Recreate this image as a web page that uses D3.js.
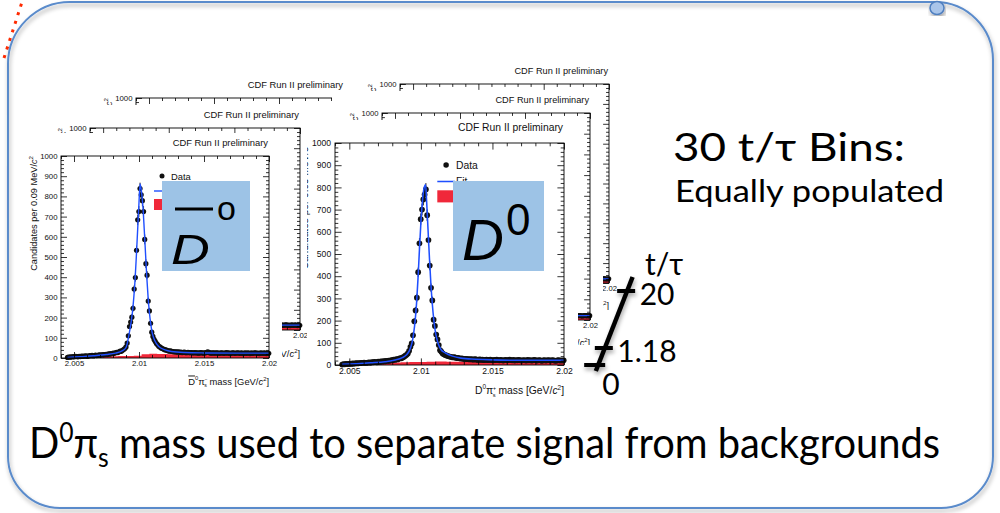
<!DOCTYPE html>
<html>
<head>
<meta charset="utf-8">
<script src="https://cdn.jsdelivr.net/npm/d3@7"></script>
<style>
  html, body { margin: 0; padding: 0; background: #fff; }
  svg { display: block; }
</style>
</head>
<body>
<svg id="slide" width="1000" height="513"></svg>
<script>
// ---------- data ----------
const binStart = 2.0045;      // centre of the first mass bin (GeV/c^2)
const binWidth = 0.00009;     // 0.09 MeV/c^2 per bin
const massDomain = [2.004, 2.02];
const countDomain = [0, 1000];
const xTickValues = [2.005, 2.01, 2.015, 2.02];
const xTickLabels = ["2.005", "2.01", "2.015", "2.02"];
const yTickValues = [0, 100, 200, 300, 400, 500, 600, 700, 800, 900, 1000];
const yTickLabels = ["0", "100", "200", "300", "400", "500", "600", "700", "800", "900", "1000"];

// anti-D0 pi_s candidates per bin
const dbarCounts = [
  3, 5, 4, 6, 5, 7, 6, 8, 7, 6,
  8, 7, 9, 8, 10, 9, 11, 8, 10, 12,
  11, 13, 10, 12, 14, 12, 13, 15, 14, 16,
  15, 17, 16, 18, 17, 20, 19, 22, 21, 24,
  23, 26, 28, 27, 31, 34, 33, 38, 42, 47,
  55, 74, 110, 156, 178, 202, 246, 341, 398, 533, 684, 725, 839,
  808, 779, 725, 587, 467, 410, 282, 233, 172, 128, 107, 92, 82, 72, 66,
  58, 55, 50, 47, 44, 41, 40, 38, 36, 34, 35, 33, 32,
  31, 30, 31, 29, 30, 28, 29, 27, 28, 29, 27, 26, 28, 27, 26, 27, 25, 26, 27, 25,
  26, 24, 25, 27, 26, 24, 25, 26, 28, 30, 27, 25, 24, 26, 25, 24, 26, 25, 24, 23,
  25, 26, 24, 23, 25, 27, 24, 25, 22, 24, 26, 25, 23, 24, 26, 25, 23, 24, 25, 22,
  24, 25, 23, 26, 24, 22, 25, 23, 24, 26, 25, 23, 24, 22, 25, 24, 23, 25, 24, 22, 24, 23
];
const dbarFitMass = [2.0045, 2.0055, 2.0065, 2.0075, 2.0082, 2.0087, 2.0090, 2.0091, 2.0092, 2.0093,
  2.0094, 2.0095, 2.0096, 2.0097, 2.0098, 2.0099, 2.0100, 2.01008, 2.0102, 2.0103,
  2.0104, 2.0105, 2.0106, 2.0107, 2.0108, 2.0109, 2.0110, 2.0111, 2.0112, 2.0115,
  2.0120, 2.0125, 2.0135, 2.015, 2.0175, 2.02];
const dbarFitCounts = [3, 7, 11, 17, 24, 35, 52, 72, 105, 140,
  180, 230, 300, 390, 510, 640, 770, 862, 820, 750,
  640, 520, 400, 300, 225, 170, 130, 105, 88, 58,
  40, 32, 27, 25, 24, 24];
const dbarBkgEdges = [2.0045, 2.0066, 2.0072, 2.0078, 2.0084, 2.0090, 2.0096, 2.0102, 2.0108,
  2.0114, 2.0122, 2.0132, 2.0145, 2.0160, 2.0175, 2.0190, 2.0200];
const dbarBkgCounts = [0, 4, 8, 9, 10, 10, 11, 18, 21, 20, 19, 18, 17, 18, 17, 18];

// D0 pi_s candidates per bin
const d0Counts = [
  2, 4, 3, 5, 4, 5, 6, 5, 7, 6,
  7, 8, 7, 9, 8, 10, 9, 11, 10, 9,
  11, 12, 10, 13, 12, 14, 13, 12, 15, 14,
  16, 15, 17, 16, 19, 18, 20, 19, 22, 21,
  24, 23, 26, 25, 28, 31, 30, 34, 37, 42,
  46, 52, 64, 82, 97, 134, 197, 246, 303, 418, 548, 657, 700, 746, 768,
  791, 675, 563, 448, 348, 291, 204, 176, 137, 115, 90, 67, 60, 52, 48, 45,
  43, 40, 39, 37, 36, 34, 35, 33, 31, 32, 30, 29, 30, 28, 27, 28, 26, 27, 25, 26,
  25, 24, 26, 25, 23, 24, 25, 23, 24, 22, 23, 24, 22, 23, 24, 22, 21, 23, 22, 24,
  22, 21, 23, 22, 20, 22, 23, 21, 22, 24, 22, 21, 23, 20, 22, 21, 23, 22, 20, 21,
  22, 21, 20, 23, 21, 22, 20, 21, 23, 22, 20, 21, 22, 21, 19, 21, 22, 20, 21, 22,
  21, 20, 22, 21, 20, 19, 21, 22, 20, 21, 20, 21
];
const d0FitMass = [2.0045, 2.0055, 2.0065, 2.0075, 2.0082, 2.0087, 2.0090, 2.0092, 2.0093, 2.0094,
  2.0095, 2.0096, 2.0097, 2.0098, 2.0099, 2.0100, 2.0101, 2.0102, 2.01033, 2.0104,
  2.0105, 2.0106, 2.0107, 2.0108, 2.0109, 2.0110, 2.0111, 2.0112, 2.0114, 2.0117,
  2.0122, 2.0128, 2.0138, 2.015, 2.0175, 2.02];
const d0FitCounts = [3, 6, 10, 15, 22, 33, 46, 65, 82, 105,
  145, 200, 280, 390, 520, 640, 730, 790, 812, 740,
  610, 480, 365, 275, 205, 155, 122, 98, 70, 55,
  40, 31, 26, 23, 21, 21];
const d0BkgEdges = [2.0045, 2.0068, 2.0074, 2.0080, 2.0086, 2.0092, 2.0098, 2.0104, 2.0110,
  2.0118, 2.0128, 2.0140, 2.0155, 2.0170, 2.0185, 2.0200];
const d0BkgCounts = [0, 5, 9, 11, 12, 13, 14, 15, 16, 15, 16, 15, 16, 15];

// decay-time bin boundaries shown on the t/tau scale
const tauTickValues = [0, 1.18, 20];
const tauTickLabels = ["0", "1.18", "20"];

// ---------- drawing ----------
const svg = d3.select("#slide");
const defs = svg.append("defs");

const shadow = defs.append("filter").attr("id", "softShadow")
  .attr("x", "-10%").attr("y", "-10%").attr("width", "120%").attr("height", "120%");
shadow.append("feDropShadow").attr("dx", 1).attr("dy", 3).attr("stdDeviation", 2.2)
  .attr("flood-color", "#000").attr("flood-opacity", 0.35);

const sets = {
  dbar: { counts: dbarCounts, fitM: dbarFitMass, fitC: dbarFitCounts, bkgE: dbarBkgEdges, bkgC: dbarBkgCounts, charge: "\u2212", bar: true },
  d0:   { counts: d0Counts,   fitM: d0FitMass,   fitC: d0FitCounts,   bkgE: d0BkgEdges,   bkgC: d0BkgCounts,   charge: "+",      bar: false }
};

// stacked histogram panels, back to front: [x0, y0, x1, y1] of the frame and of the visible cut-out
const panels = [
  { frame: [136, 98, 344, 300], cut: [88, 74, 360, 335],  k: 1.0,  set: "dbar" },
  { frame: [90, 128, 300, 330], cut: [40, 105, 313, 362], k: 1.0,  set: "dbar" },
  { frame: [61, 156, 269, 358], cut: [13, 133, 282, 395], k: 1.0,  set: "dbar" },
  { frame: [400, 84, 609, 283], cut: [352, 62, 625, 310], k: 0.98, set: "d0" },
  { frame: [382, 113, 590, 320], cut: [332, 91, 603, 345], k: 0.98, set: "d0" },
  { frame: [335, 143, 564, 365], cut: [307, 120, 578, 398], k: 1.1,  set: "d0" }
];
// flavour label boxes laid over the front panels
const labelBoxes = [[162, 181, 250, 271], [453, 181, 544, 271]];

const plotFont = "'Liberation Sans', Arial, sans-serif";
const slideFont = "Lato, 'Open Sans', sans-serif";
const xMinor = d3.range(4, 21).filter(v => v % 5 !== 0).map(v => 2 + v / 1000);
const yMinor = d3.range(0, 1001, 20).filter(v => v % 100 !== 0);

function drawPanel(cfg, idx) {
  const [fx0, fy0, fx1, fy1] = cfg.frame;
  const [cx0, cy0, cx1, cy1] = cfg.cut;
  const k = cfg.k;
  const s = sets[cfg.set];

  defs.append("clipPath").attr("id", "cut" + idx)
    .append("rect").attr("x", cx0).attr("y", cy0).attr("width", cx1 - cx0).attr("height", cy1 - cy0);

  const g = svg.append("g").attr("class", "panel").attr("id", "panel" + idx).attr("clip-path", `url(#cut${idx})`);
  g.append("rect").attr("x", cx0).attr("y", cy0).attr("width", cx1 - cx0).attr("height", cy1 - cy0).attr("fill", "#fff");

  const x = d3.scaleLinear().domain(massDomain).range([fx0, fx1]);
  const y = d3.scaleLinear().domain(countDomain).range([fy1, fy0]);

  // wrong-sign background histogram
  const bkgPts = s.bkgE.map((m, j) => ({ m, c: j < s.bkgC.length ? s.bkgC[j] : s.bkgC[s.bkgC.length - 1] }));
  g.append("path").datum(bkgPts)
    .attr("d", d3.area().curve(d3.curveStepAfter).x(d => x(d.m)).y0(y(0)).y1(d => y(d.c)))
    .attr("fill", "#f0283a");

  // data points with statistical error bars
  const pts = s.counts.map((c, i) => ({ m: binStart + i * binWidth, c }));
  g.append("g").selectAll("line").data(pts).join("line")
    .attr("x1", d => x(d.m)).attr("x2", d => x(d.m))
    .attr("y1", d => y(d.c - Math.sqrt(d.c))).attr("y2", d => y(d.c + Math.sqrt(d.c)))
    .attr("stroke", "#111").attr("stroke-width", 0.9 * k);
  g.append("g").selectAll("circle").data(pts).join("circle")
    .attr("cx", d => x(d.m)).attr("cy", d => y(d.c)).attr("r", 2.6 * k).attr("fill", "#111");

  // fit curve
  const fit = s.fitM.map((m, j) => ({ m, c: s.fitC[j] }));
  g.append("path").datum(fit)
    .attr("d", d3.line().curve(d3.curveMonotoneX).x(d => x(d.m)).y(d => y(d.c)))
    .attr("fill", "none").attr("stroke", "#1f4fff").attr("stroke-width", 1.4 * k);

  // frame
  g.append("rect").attr("x", fx0).attr("y", fy0).attr("width", fx1 - fx0).attr("height", fy1 - fy0)
    .attr("fill", "none").attr("stroke", "#000").attr("stroke-width", 0.9);

  const major = 6 * k, minor = 3 * k;
  function styleAxis(a) {
    a.select(".domain").remove();
    a.attr("font-family", plotFont).attr("font-size", 7.8 * k);
    a.selectAll("line").attr("stroke-width", 0.8);
    a.selectAll("text").attr("fill", "#111");
  }
  // labelled axes
  g.append("g").attr("transform", `translate(0,${fy1})`)
    .call(d3.axisBottom(x).tickValues(xTickValues).tickFormat((d, i) => xTickLabels[i]).tickSize(-major).tickPadding(2.5 * k))
    .call(styleAxis);
  g.append("g").attr("transform", `translate(${fx0},0)`)
    .call(d3.axisLeft(y).tickValues(yTickValues).tickFormat((d, i) => yTickLabels[i]).tickSize(-major).tickPadding(3.5 * k))
    .call(styleAxis);
  // mirrored ticks and minor ticks
  g.append("g").attr("transform", `translate(0,${fy0})`)
    .call(d3.axisTop(x).tickValues(xTickValues).tickFormat("").tickSize(-major)).call(styleAxis);
  g.append("g").attr("transform", `translate(${fx1},0)`)
    .call(d3.axisRight(y).tickValues(yTickValues).tickFormat("").tickSize(-major)).call(styleAxis);
  g.append("g").attr("transform", `translate(0,${fy1})`)
    .call(d3.axisBottom(x).tickValues(xMinor).tickFormat("").tickSize(-minor)).call(styleAxis);
  g.append("g").attr("transform", `translate(0,${fy0})`)
    .call(d3.axisTop(x).tickValues(xMinor).tickFormat("").tickSize(-minor)).call(styleAxis);
  g.append("g").attr("transform", `translate(${fx0},0)`)
    .call(d3.axisLeft(y).tickValues(yMinor).tickFormat("").tickSize(-minor)).call(styleAxis);
  g.append("g").attr("transform", `translate(${fx1},0)`)
    .call(d3.axisRight(y).tickValues(yMinor).tickFormat("").tickSize(-minor)).call(styleAxis);
  // unlabeled axes carry empty text nodes; drop them
  g.selectAll("text").filter(function () { return !this.textContent; }).remove();

  // title
  g.append("text").attr("x", fx1 - 1).attr("y", fy0 - 10.5 * k)
    .attr("text-anchor", "end").attr("font-family", plotFont).attr("font-size", 9.4 * k)
    .attr("fill", "#111").text("CDF Run II preliminary");

  // y title
  const yt = g.append("text")
    .attr("transform", `translate(${fx0 - 24.5 * k},${fy0}) rotate(-90)`)
    .attr("text-anchor", "end").attr("font-family", plotFont).attr("font-size", 9.2 * k).attr("fill", "#111");
  yt.append("tspan").text("Candidates per 0.09 MeV/");
  yt.append("tspan").attr("font-style", "italic").text("c");
  yt.append("tspan").attr("dy", -3.6 * k).attr("font-size", 6.2 * k).text("2");

  // x title
  const fs = 9.4 * k;
  const xt = g.append("text").attr("x", fx1).attr("y", fy1 + 26.5 * k)
    .attr("text-anchor", "end").attr("font-family", plotFont).attr("font-size", fs).attr("fill", "#111");
  const dSpan = xt.append("tspan").text("D");
  if (s.bar) dSpan.style("text-decoration", "overline");
  xt.append("tspan").attr("dy", -0.45 * fs).attr("font-size", 0.62 * fs).text("0");
  xt.append("tspan").attr("dy", 0.45 * fs).text("\u03c0");
  xt.append("tspan").attr("dy", -0.42 * fs).attr("font-size", 0.5 * fs).text(s.charge);
  xt.append("tspan").attr("dx", -0.33 * fs).attr("dy", 0.72 * fs).attr("font-size", 0.55 * fs).text("s");
  xt.append("tspan").attr("dy", -0.3 * fs).text(" mass [GeV/");
  xt.append("tspan").attr("font-style", "italic").text("c");
  xt.append("tspan").attr("dy", -0.42 * fs).attr("font-size", 0.62 * fs).text("2");
  xt.append("tspan").attr("dy", 0.42 * fs).text("]");

  // legend
  const lx = fx0 + 93 * k, ly = fy0;
  g.append("circle").attr("cx", fx0 + 101 * k).attr("cy", ly + 20 * k).attr("r", 2.5 * k).attr("fill", "#111");
  g.append("text").attr("x", fx0 + 110 * k).attr("y", ly + 23.5 * k)
    .attr("font-family", plotFont).attr("font-size", 9.4 * k).attr("fill", "#111").text("Data");
  g.append("line").attr("x1", lx).attr("x2", lx + 16 * k).attr("y1", ly + 35 * k).attr("y2", ly + 35 * k)
    .attr("stroke", "#1f4fff").attr("stroke-width", 1.4 * k);
  g.append("text").attr("x", fx0 + 110 * k).attr("y", ly + 38.5 * k)
    .attr("font-family", plotFont).attr("font-size", 9.4 * k).attr("fill", "#111").text("Fit");
  g.append("rect").attr("x", lx).attr("y", ly + 43 * k).attr("width", 16 * k).attr("height", 11 * k)
    .attr("fill", "#f0283a");
}

panels.forEach(drawPanel);

// texts of the stacked panels that end up fully hidden (outside their own cut-out,
// or under the panels / label boxes stacked on top) are not kept
const hits = (px, py, r) => px >= r[0] && px <= r[2] && py >= r[1] && py <= r[3];
panels.forEach((cfg, idx) => {
  const covers = panels.slice(idx + 1).map(p => p.cut).concat(labelBoxes);
  d3.select("#panel" + idx).selectAll("text").each(function () {
    const b = this.getBoundingClientRect();
    let visible = false;
    for (let i = 0; i <= 8 && !visible; i++) {
      for (let j = 0; j <= 4 && !visible; j++) {
        const px = b.left + 1 + (b.width - 2) * i / 8;
        const py = b.top + 1 + (b.height - 2) * j / 4;
        if (hits(px, py, cfg.cut) && !covers.some(r => hits(px, py, r))) visible = true;
      }
    }
    if (!visible) this.remove();
  });
});

// ---------- flavour labels ----------
const boxBlue = "#9dc3e6";
svg.selectAll("rect.flavour").data(labelBoxes).join("rect").attr("class", "flavour")
  .attr("x", d => d[0]).attr("y", d => d[1]).attr("width", d => d[2] - d[0]).attr("height", d => d[3] - d[1])
  .attr("fill", boxBlue);

svg.append("line").attr("x1", 175).attr("x2", 213).attr("y1", 209).attr("y2", 209)
  .attr("stroke", "#000").attr("stroke-width", 2.8);
svg.append("text").attr("x", 217).attr("y", 220).attr("font-family", plotFont).attr("font-size", 34).text("o");
svg.append("text").attr("transform", "translate(171,264) scale(1.25,1)")
  .attr("font-family", plotFont).attr("font-style", "italic").attr("font-size", 43).text("D");

svg.append("text").attr("x", 462).attr("y", 260)
  .attr("font-family", plotFont).attr("font-style", "italic").attr("font-size", 58).text("D");
svg.append("text").attr("x", 506).attr("y", 235)
  .attr("font-family", plotFont).attr("font-size", 44).text("0");

// ---------- slide text ----------
svg.append("text").attr("x", 673).attr("y", 161).attr("font-family", slideFont).attr("font-size", 39)
  .attr("textLength", 232).attr("lengthAdjust", "spacingAndGlyphs").attr("fill", "#000")
  .text("30 t/\u03c4 Bins:");
svg.append("text").attr("x", 675).attr("y", 202).attr("font-family", slideFont).attr("font-size", 30.5)
  .attr("textLength", 269).attr("lengthAdjust", "spacingAndGlyphs").attr("fill", "#000")
  .text("Equally populated");

const bottom = svg.append("text").attr("x", 29).attr("y", 458).attr("font-family", slideFont)
  .attr("font-size", 42).attr("textLength", 911).attr("lengthAdjust", "spacingAndGlyphs").attr("fill", "#000");
bottom.append("tspan").text("D");
bottom.append("tspan").attr("dy", -16).attr("font-size", 26).text("0");
bottom.append("tspan").attr("dy", 16).text("\u03c0");
bottom.append("tspan").attr("dy", 9).attr("font-size", 26).text("s");
bottom.append("tspan").attr("dy", -9).text(" mass used to separate signal from backgrounds");

// ---------- t/tau scale ----------
const tauY = d3.scaleLinear().domain(tauTickValues).range([365, 348, 291]);
const lineX = yy => 597 + (368 - yy) * (36 / 92);
const tauG = svg.append("g").attr("filter", "url(#softShadow)");
tauG.append("line").attr("x1", lineX(371)).attr("y1", 371).attr("x2", lineX(277)).attr("y2", 277)
  .attr("stroke", "#000").attr("stroke-width", 4.5);
tauG.selectAll("line.tick").data(tauTickValues).join("line").attr("class", "tick")
  .attr("x1", d => lineX(tauY(d)) - (d === 0 ? 14 : 10)).attr("x2", d => lineX(tauY(d)) + (d === 0 ? 7 : 8))
  .attr("y1", d => tauY(d)).attr("y2", d => tauY(d))
  .attr("stroke", "#000").attr("stroke-width", 4);
svg.selectAll("text.tau").data(tauTickValues).join("text").attr("class", "tau")
  .attr("x", d => d === 0 ? lineX(tauY(d)) + 4 : lineX(tauY(d)) + 12.5)
  .attr("y", d => d === 0 ? tauY(d) + 30 : tauY(d) + 13.5)
  .attr("font-family", slideFont).attr("font-size", 30).attr("fill", "#000")
  .text((d, i) => tauTickLabels[i]);
svg.append("text").attr("x", 645).attr("y", 275).attr("font-family", slideFont).attr("font-size", 30)
  .attr("fill", "#000").text("t/\u03c4");

// ---------- slide frame ----------
svg.append("path")
  .attr("d", "M 4 58 L 22 2")
  .attr("stroke", "#ff2a00").attr("stroke-width", 3).attr("stroke-dasharray", "3 6").attr("fill", "none");

const L = 8, R = 993, T = 2, B = 508;
const frame = `M ${L + 62} ${T} H ${R - 58} A 58 58 0 0 1 ${R} ${T + 58} V ${B - 52} A 52 52 0 0 1 ${R - 52} ${B}
  H ${L + 52} A 52 52 0 0 1 ${L} ${B - 52} V ${T + 62} A 62 62 0 0 1 ${L + 62} ${T} Z`;
svg.append("path").attr("d", frame).attr("fill", "none").attr("stroke", "#5a8bcb").attr("stroke-width", 2)
  .attr("filter", "url(#softShadow)");
svg.append("ellipse").attr("cx", 937).attr("cy", 8).attr("rx", 7).attr("ry", 6.5)
  .attr("fill", "#a9c5ea").attr("stroke", "#4f7fc0").attr("stroke-width", 1.5).attr("filter", "url(#softShadow)");
</script>
</body>
</html>
